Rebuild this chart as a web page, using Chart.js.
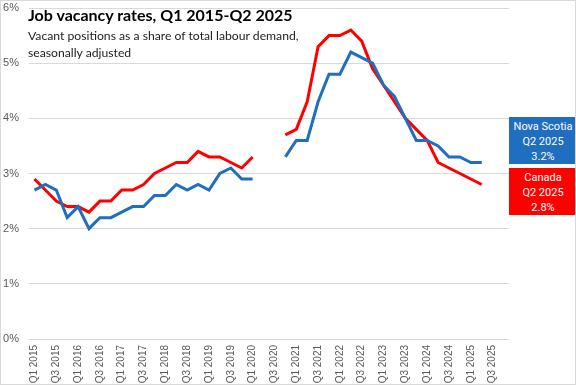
<!DOCTYPE html>
<html><head><meta charset="utf-8">
<script src="https://cdn.jsdelivr.net/npm/chart.js@4.4.1/dist/chart.umd.min.js"></script>
<style>
html,body{margin:0;padding:0;background:#fff;}
#wrap{position:relative;width:576px;height:385px;box-sizing:border-box;border:1px solid #d9d9d9;overflow:hidden;}
#c{position:absolute;left:0;top:0;}
.t{position:absolute;font-family:Lato,"Open Sans",sans-serif;color:#000;white-space:nowrap;}
#title{left:27px;top:4px;font-weight:bold;font-size:16px;}
#sub{left:27px;top:26px;font-size:12.2px;line-height:17px;color:#222;}
.box{position:absolute;left:508px;width:68px;color:#fff;font-family:Roboto,"Liberation Sans",sans-serif;font-size:11px;line-height:15px;text-align:center;padding-top:2px;box-sizing:border-box;}
#ns{top:116px;height:47px;background:#1F6EBF;}
#ca{top:167px;height:47px;background:#FF0000;}
</style></head><body>
<div id="wrap">
<canvas id="c" width="576" height="385"></canvas>
<div class="t" id="title">Job vacancy rates, Q1 2015-Q2 2025</div>
<div class="t" id="sub">Vacant positions as a share of total labour demand,<br>seasonally adjusted</div>
<div class="box" id="ns">Nova Scotia<br>Q2 2025<br>3.2%</div>
<div class="box" id="ca">Canada<br>Q2 2025<br>2.8%</div>
</div>
<script>
const years = [2015,2016,2017,2018,2019,2020,2021,2022,2023,2024,2025];
const quarters = [];
years.forEach(y => { for (let q = 1; q <= 4; q++) quarters.push('Q' + q + ' ' + y); });

const novaScotia = [2.7,2.8,2.7,2.2, 2.4,2.0,2.2,2.2, 2.3,2.4,2.4,2.6, 2.6,2.8,2.7,2.8, 2.7,3.0,3.1,2.9,
  2.9,null,null,3.3, 3.6,3.6,4.3,4.8, 4.8,5.2,5.1,5.0, 4.6,4.4,4.0,3.6, 3.6,3.5,3.3,3.3, 3.2,3.2,null,null];
const canada = [2.9,2.7,2.5,2.4, 2.4,2.3,2.5,2.5, 2.7,2.7,2.8,3.0, 3.1,3.2,3.2,3.4, 3.3,3.3,3.2,3.1,
  3.3,null,null,3.7, 3.8,4.3,5.3,5.5, 5.5,5.6,5.4,4.9, 4.6,4.3,4.0,3.8, 3.6,3.2,3.1,3.0, 2.9,2.8,null,null];
const yTicks = [0,1,2,3,4,5,6];

new Chart(document.getElementById('c'), {
  type: 'line',
  data: {
    labels: quarters,
    datasets: [
      {label:'Nova Scotia', data: novaScotia, borderColor:'#1F6EBF', borderWidth:3, pointRadius:0, tension:0, spanGaps:false},
      {label:'Canada', data: canada, borderColor:'#FF0000', borderWidth:3, pointRadius:0, tension:0, spanGaps:false}
    ]
  },
  options: {
    responsive:false, animation:false,
    layout:{padding:{top:7,right:68,bottom:3,left:0}},
    plugins:{legend:{display:false}, tooltip:{enabled:false}, title:{display:false}},
    scales:{
      x:{
        offset:true,
        afterFit:(s)=>{ s.height = 44; s.paddingLeft = 0; s.paddingRight = 0; },
        grid:{display:false, drawTicks:false},
        border:{display:false},
        ticks:{autoSkip:false, maxRotation:90, minRotation:90, color:'#595959', padding:6,
          font:{family:'"Liberation Sans", Arial, sans-serif', size:10},
          callback:function(v,i){ return i%2===0 ? this.getLabelForValue(v) : ''; }}
      },
      y:{
        min:0, max:6,
        afterBuildTicks:(s)=>{ s.ticks = yTicks.map(v=>({value:v})); },
        afterFit:(s)=>{ s.width = 28; s.paddingTop = 0; s.paddingBottom = 0; },
        grid:{color:'#d9d9d9', drawTicks:false, lineWidth:1},
        border:{display:false},
        ticks:{color:'#595959', padding:10, font:{family:'"Liberation Sans", Arial, sans-serif', size:11},
          callback:(v)=> v + '%'}
      }
    }
  }
});
</script>
</body></html>
